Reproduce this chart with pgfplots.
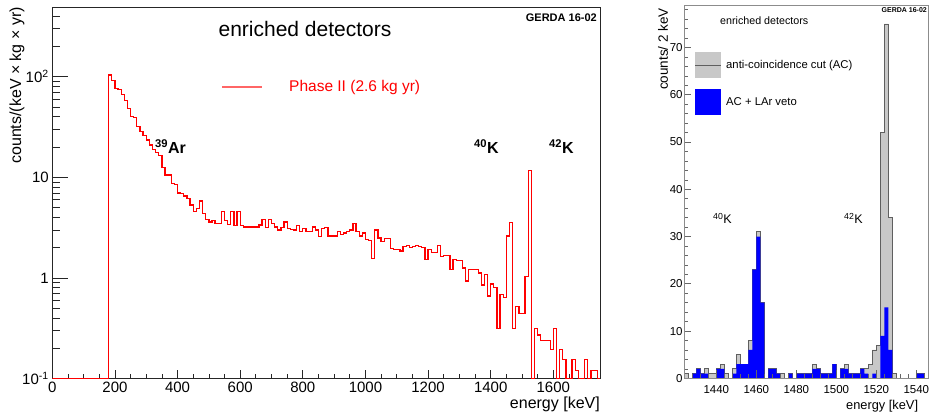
\documentclass[border=0pt]{standalone}
\usepackage{pgfplots}
\pgfplotsset{compat=1.18}
\usepackage{fontspec}
\setmainfont{Liberation Sans}
\definecolor{histgray}{RGB}{200,200,200}
\definecolor{histline}{RGB}{95,95,95}
\newcommand\fs[1]{\fontsize{#1}{#1}\selectfont}
\begin{document}
\begin{tikzpicture}[x=1pt,y=1pt]
\useasboundingbox (0,0) rectangle (935,415);
% ---------------- left panel ----------------
\begin{axis}[
  at={(52.3pt,36.5pt)}, anchor=south west,
  scale only axis, width=548pt, height=371pt,
  xmin=0, xmax=1750, ymode=log, ymin=0.1, ymax=487,
  axis line style={black!85, line width=0.8pt},
  tick pos=left, tick align=inside,
  every tick/.style={black!85, line width=0.7pt},
  xtick={0,200,...,1600},
  xticklabels={0,200,400,600,800,1000,1200,1400,1600},
  minor xtick={50,100,...,1750},
  ytick={0.1,1,10,100},
  yticklabels={10\textsuperscript{-1},1,10,10\textsuperscript{2}},
  minor ytick={0.2,0.3,0.4,0.5,0.6,0.7,0.8,0.9,2,3,4,5,6,7,8,9,20,30,40,50,60,70,80,90,200,300,400},
  xtick style={/pgfplots/major tick length=9pt},
  minor x tick style={/pgfplots/minor tick length=4.5pt},
  ytick style={/pgfplots/major tick length=16pt},
  minor y tick style={/pgfplots/minor tick length=7.5pt},
  ticklabel style={font=\fs{15}},
]
\addplot[const plot, red, line width=1.3pt] coordinates {
(0,0.1) (180,104) (190,92) (200,76) (210,74) (220,66) (230,58) (240,48) (250,40) (260,39) (270,32) (280,28.5) (290,26) (300,23.5) (310,21) (320,19) (330,17.5) (340,16.5) (350,12.5) (360,10.5) (370,10.5) (380,8.7) (390,8.5) (400,7.0) (410,6.9) (420,6.5) (430,6.2) (440,5.3) (450,4.6) (460,4.9) (470,5.8) (480,4.4) (490,3.8) (500,3.6) (510,3.7) (520,3.5) (530,3.5) (540,4.6) (550,3.7) (560,3.4) (570,4.6) (580,3.3) (590,4.6) (600,3.3) (610,3.2) (620,3.2) (630,3.2) (640,3.2) (650,3.2) (660,3.36) (670,3.8) (680,3.15) (690,3.8) (700,3.5) (710,3.2) (720,3.0) (730,3.15) (740,3.6) (750,3.1) (760,3.05) (770,3.0) (780,3.3) (790,2.88) (800,3.1) (810,2.9) (820,2.9) (830,3.2) (840,3.0) (850,2.57) (860,3.1) (870,3.15) (880,2.6) (890,2.6) (900,2.6) (910,2.9) (920,2.7) (930,2.8) (940,2.9) (950,3.0) (960,3.45) (970,2.88) (980,2.6) (990,2.8) (1000,2.4) (1010,2.35) (1020,1.57) (1030,3.0) (1040,2.5) (1050,2.3) (1060,2.48) (1070,2.48) (1080,1.95) (1090,1.9) (1100,1.9) (1110,1.85) (1120,2.05) (1130,2.1) (1140,2.0) (1150,2.05) (1160,2.1) (1170,2.05) (1180,2.0) (1190,1.53) (1200,1.91) (1210,1.8) (1220,1.8) (1230,2.1) (1240,1.62) (1250,1.67) (1260,1.67) (1270,1.22) (1280,1.53) (1290,1.5) (1300,1.5) (1310,1.25) (1320,0.93) (1330,1.22) (1340,1.22) (1350,1.22) (1360,1.12) (1370,0.85) (1380,1.08) (1390,0.66) (1400,0.87) (1410,0.8) (1420,0.316) (1430,0.68) (1440,0.64) (1450,2.6) (1460,3.55) (1470,0.316) (1480,0.52) (1490,0.44) (1500,0.44) (1510,1.03) (1520,11.6) (1530,0.1) (1540,0.316) (1550,0.27) (1560,0.24) (1570,0.24) (1580,0.24) (1590,0.195) (1600,0.316) (1610,0.1) (1620,0.195) (1630,0.155) (1640,0.1) (1650,0.1) (1660,0.155) (1670,0.12) (1680,0.1) (1690,0.1) (1700,0.155) (1710,0.1) (1720,0.12) (1730,0.12) (1740,0.1) (1750,0.1)
};
\end{axis}
% ---------------- right panel ----------------
\begin{axis}[
  at={(684.3pt,36.7pt)}, anchor=south west,
  scale only axis, width=244pt, height=373.3pt,
  xmin=1424, xmax=1546, ymin=0, ymax=79,
  axis line style={black!45, line width=0.8pt},
  tick pos=left, tick align=inside,
  every tick/.style={black!60, line width=0.6pt},
  xtick={1440,1460,...,1540},
  xticklabels={1440,1460,1480,1500,1520,1540},
  minor xtick={1428,1432,...,1544},
  ytick={0,10,...,70},
  yticklabels={0,10,20,30,40,50,60,70},
  minor ytick={2,4,...,78},
  xtick style={/pgfplots/major tick length=8pt},
  minor x tick style={/pgfplots/minor tick length=4pt},
  ytick style={/pgfplots/major tick length=7pt},
  minor y tick style={/pgfplots/minor tick length=3.5pt},
  xticklabel style={font=\fs{11.5}, inner ysep=0pt, yshift=-7pt},
  yticklabel style={font=\fs{11.5}, inner xsep=1.5pt},
  axis on top,
]
\addplot[const plot, fill=histgray, draw=histline, line width=0.8pt] coordinates {
(1424,1)(1426,0)(1428,1)(1430,2)(1432,1)(1434,2)(1436,1)(1438,1)(1440,2)(1442,3)(1444,1)(1446,0)(1448,2)(1450,5)(1452,3)(1454,3)(1456,8)(1458,23)(1460,31)(1462,16)(1464,0)(1466,2)(1468,2)(1470,1)(1472,1)(1474,0)(1476,1)(1478,0)(1480,1)(1482,1)(1484,1)(1486,1)(1488,3)(1490,2)(1492,1)(1494,1)(1496,1)(1498,3)(1500,0)(1502,2)(1504,3)(1506,1)(1508,1)(1510,1)(1512,2)(1514,2)(1516,3)(1518,6)(1520,7)(1522,52)(1524,75)(1526,34)(1528,1)(1530,0)(1532,0)(1534,0)(1536,0)(1538,0)(1540,1)(1542,1)(1544,0)(1546,0)
} \closedcycle;
\addplot[const plot, fill=blue, draw=none] coordinates {
(1424,0)(1426,0)(1428,1)(1430,2)(1432,1)(1434,1)(1436,0)(1438,0)(1440,2)(1442,2)(1444,0)(1446,0)(1448,1)(1450,3)(1452,3)(1454,3)(1456,6)(1458,23)(1460,30)(1462,16)(1464,0)(1466,2)(1468,2)(1470,1)(1472,0)(1474,0)(1476,1)(1478,0)(1480,1)(1482,1)(1484,1)(1486,1)(1488,2)(1490,2)(1492,1)(1494,1)(1496,1)(1498,3)(1500,0)(1502,2)(1504,2)(1506,1)(1508,1)(1510,1)(1512,2)(1514,1)(1516,0)(1518,1)(1520,0)(1522,9)(1524,15)(1526,6)(1528,0)(1530,0)(1532,0)(1534,0)(1536,0)(1538,0)(1540,1)(1542,1)(1544,0)(1546,0)
} \closedcycle;
\end{axis}
% ---------------- texts, left ----------------
\node[font=\fs{21}] at (305,386) {enriched detectors};
\node[font=\bfseries\fs{11}, anchor=base east, inner sep=0pt] at (597,393) {GERDA 16-02};
\draw[red!60, line width=1.3pt] (222,328) -- (262,328);
\node[font=\fs{15.5}, text=red, anchor=west, inner sep=0pt] at (289,328) {Phase II (2.6 kg yr)};
\node[font=\bfseries\fs{16}, anchor=base west, inner sep=0pt] at (155,261.5) {\textsuperscript{39}Ar};
\node[font=\bfseries\fs{16}, anchor=base west, inner sep=0pt] at (474,261.5) {\textsuperscript{40}K};
\node[font=\bfseries\fs{16}, anchor=base west, inner sep=0pt] at (549,261.5) {\textsuperscript{42}K};
\node[font=\fs{16}, rotate=90, anchor=east, inner sep=0pt] at (17,408) {counts/(keV × kg × yr)};
\node[font=\fs{16}, anchor=base east, inner sep=0pt] at (600,6) {energy [keV]};
% ---------------- texts, right ----------------
\node[font=\fs{10.7}, anchor=base west, inner sep=0pt] at (720,390) {enriched detectors};
\node[font=\bfseries\fs{7}, anchor=base east, inner sep=0pt] at (927,402.5) {GERDA 16-02};
\fill[histgray] (695,336.7) rectangle (720.7,362.7);
\draw[histline, line width=0.8pt] (695,349.7) -- (720.7,349.7);
\node[font=\fs{11.3}, anchor=west, inner sep=0pt] at (726,349.7) {anti-coincidence cut (AC)};
\fill[blue] (695,300) rectangle (720.7,325.7);
\node[font=\fs{11.3}, anchor=west, inner sep=0pt] at (726,313) {AC + LAr veto};
\node[font=\fs{12.5}, anchor=base west, inner sep=0pt] at (713,191) {\textsuperscript{40}K};
\node[font=\fs{12.5}, anchor=base west, inner sep=0pt] at (844,191) {\textsuperscript{42}K};
\node[font=\fs{13.5}, rotate=90, anchor=east, inner sep=0pt] at (663,407) {counts/ 2 keV};
\node[font=\fs{12.8}, anchor=base east, inner sep=0pt] at (918.3,5.7) {energy [keV]};
\end{tikzpicture}
\end{document}
